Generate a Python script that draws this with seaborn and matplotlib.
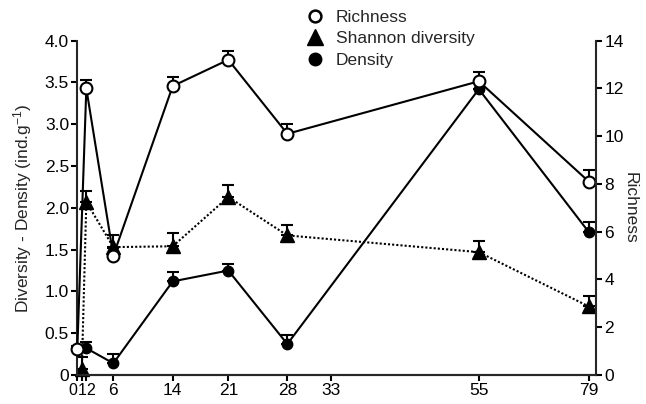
import numpy as np
import matplotlib
matplotlib.use("Agg")
import matplotlib.pyplot as plt
from matplotlib.lines import Line2D
from matplotlib.ticker import FuncFormatter
import seaborn as sns

sns.set_style("ticks")
plt.rcParams['font.family'] = ['Liberation Sans', 'DejaVu Sans']
plt.rcParams['mathtext.default'] = 'regular'

# values
rich_days = [0, 2, 6, 14, 21, 28, 55, 79]
rich_vals = [1.1, 12.0, 5.0, 12.1, 13.2, 10.1, 12.3, 8.1]
rich_err = [0.1, 0.35, 0.3, 0.4, 0.35, 0.4, 0.38, 0.5]

div_days = [1, 2, 6, 14, 21, 28, 55, 79]
div_vals = [0.07, 2.07, 1.53, 1.54, 2.13, 1.67, 1.47, 0.82]
div_err = [0.14, 0.13, 0.15, 0.16, 0.14, 0.13, 0.13, 0.12]

dens_days = [2, 6, 14, 21, 28, 55, 79]
dens_vals = [0.32, 0.14, 1.12, 1.25, 0.37, 3.42, 1.71]
dens_err = [0.07, 0.11, 0.11, 0.08, 0.11, 0.10, 0.12]

x_ticks = [0, 1, 2, 6, 14, 21, 28, 33, 55, 79]
legend_labels = ['Richness', 'Shannon diversity', 'Density']

# the day axis in the original is hand spaced, not linear
day_anchor = np.array([0, 1, 2, 6, 14, 21, 28, 33, 55, 79, 81], dtype=float)
pos_anchor = np.array([0, 4.5, 9, 36, 95.4, 151, 210, 254, 401.5, 511.5, 518.7])


def fwd(x):
    return np.interp(x, day_anchor, pos_anchor)


def inv(p):
    return np.interp(p, pos_anchor, day_anchor)


fig = plt.figure(figsize=(6.46, 4.04), dpi=100)
ax = fig.add_axes([0.1197, 0.0718, 0.9226 - 0.1197, 0.8993 - 0.0718])
ax2 = ax.twinx()
ax.set_xscale('function', functions=(fwd, inv))
ax.set_xlim(0, 81)

lw = 1.5
eb = dict(fmt='none', ecolor='black', elinewidth=lw, capsize=4, capthick=lw, clip_on=False)

# density + diversity on left axis
ax.errorbar(div_days, div_vals, yerr=[np.zeros(len(div_err)), div_err], **eb)
ax.errorbar(dens_days, dens_vals, yerr=[np.zeros(len(dens_err)), dens_err], **eb)
sns.lineplot(x=div_days, y=div_vals, ax=ax, color='black', lw=lw, linestyle=(0, (1, 1)),
             marker='^', markersize=10.5, markeredgecolor='black', markeredgewidth=1,
             clip_on=False)
sns.lineplot(x=dens_days, y=dens_vals, ax=ax, color='black', lw=lw,
             marker='o', markersize=7.5, markeredgecolor='black', markeredgewidth=1,
             clip_on=False)

# richness on right axis
ax2.errorbar(rich_days, rich_vals, yerr=[np.zeros(len(rich_err)), rich_err], **eb)
sns.lineplot(x=rich_days, y=rich_vals, ax=ax2, color='black', lw=lw,
             marker='o', markersize=8.5, markerfacecolor='white', markeredgecolor='black',
             markeredgewidth=1.5, clip_on=False)

ax.set_ylim(0, 4.0)
ax.set_yticks(np.arange(0, 4.01, 0.5))
ax.yaxis.set_major_formatter(FuncFormatter(lambda v, p: '0' if v == 0 else f'{v:.1f}'))
ax2.set_ylim(0, 14)
ax2.set_yticks(range(0, 15, 2))

ax.set_xticks(x_ticks)
ax.set_xticklabels([str(d) for d in x_ticks])
ax.set_xlabel('')

for a in (ax, ax2):
    a.spines['top'].set_visible(False)
    for s in a.spines.values():
        s.set_linewidth(lw)
    a.tick_params(direction='out', length=4, width=lw, labelsize=12.5, pad=2, colors='black')
ax.spines['right'].set_visible(False)
ax2.spines['left'].set_visible(False)

# the first three day labels sit almost on top of each other
xl = ax.get_xticklabels()
xl[0].set_horizontalalignment('right')
xl[2].set_horizontalalignment('left')
for t in xl[:3]:
    t.set_fontsize(11.5)

ax.set_ylabel('Diversity - Density (ind.g$^{-1}$)', fontsize=12.5, labelpad=8)
ax2.set_ylabel('Richness', fontsize=12.5, rotation=270, labelpad=10)

handles = [
    Line2D([], [], ls='none', marker='o', ms=8.5, mfc='white', mec='black', mew=1.8),
    Line2D([], [], ls='none', marker='^', ms=11, mfc='black', mec='black'),
    Line2D([], [], ls='none', marker='o', ms=9, mfc='black', mec='black'),
]
fig.legend(handles, legend_labels, loc='upper left', bbox_to_anchor=(306 / 646, 1 - 10 / 404),
           frameon=False, fontsize=12.5, handlelength=1.0, handletextpad=0.7,
           labelspacing=0.35, borderaxespad=0, borderpad=0)

fig.savefig('out.png', dpi=100, facecolor='w')
